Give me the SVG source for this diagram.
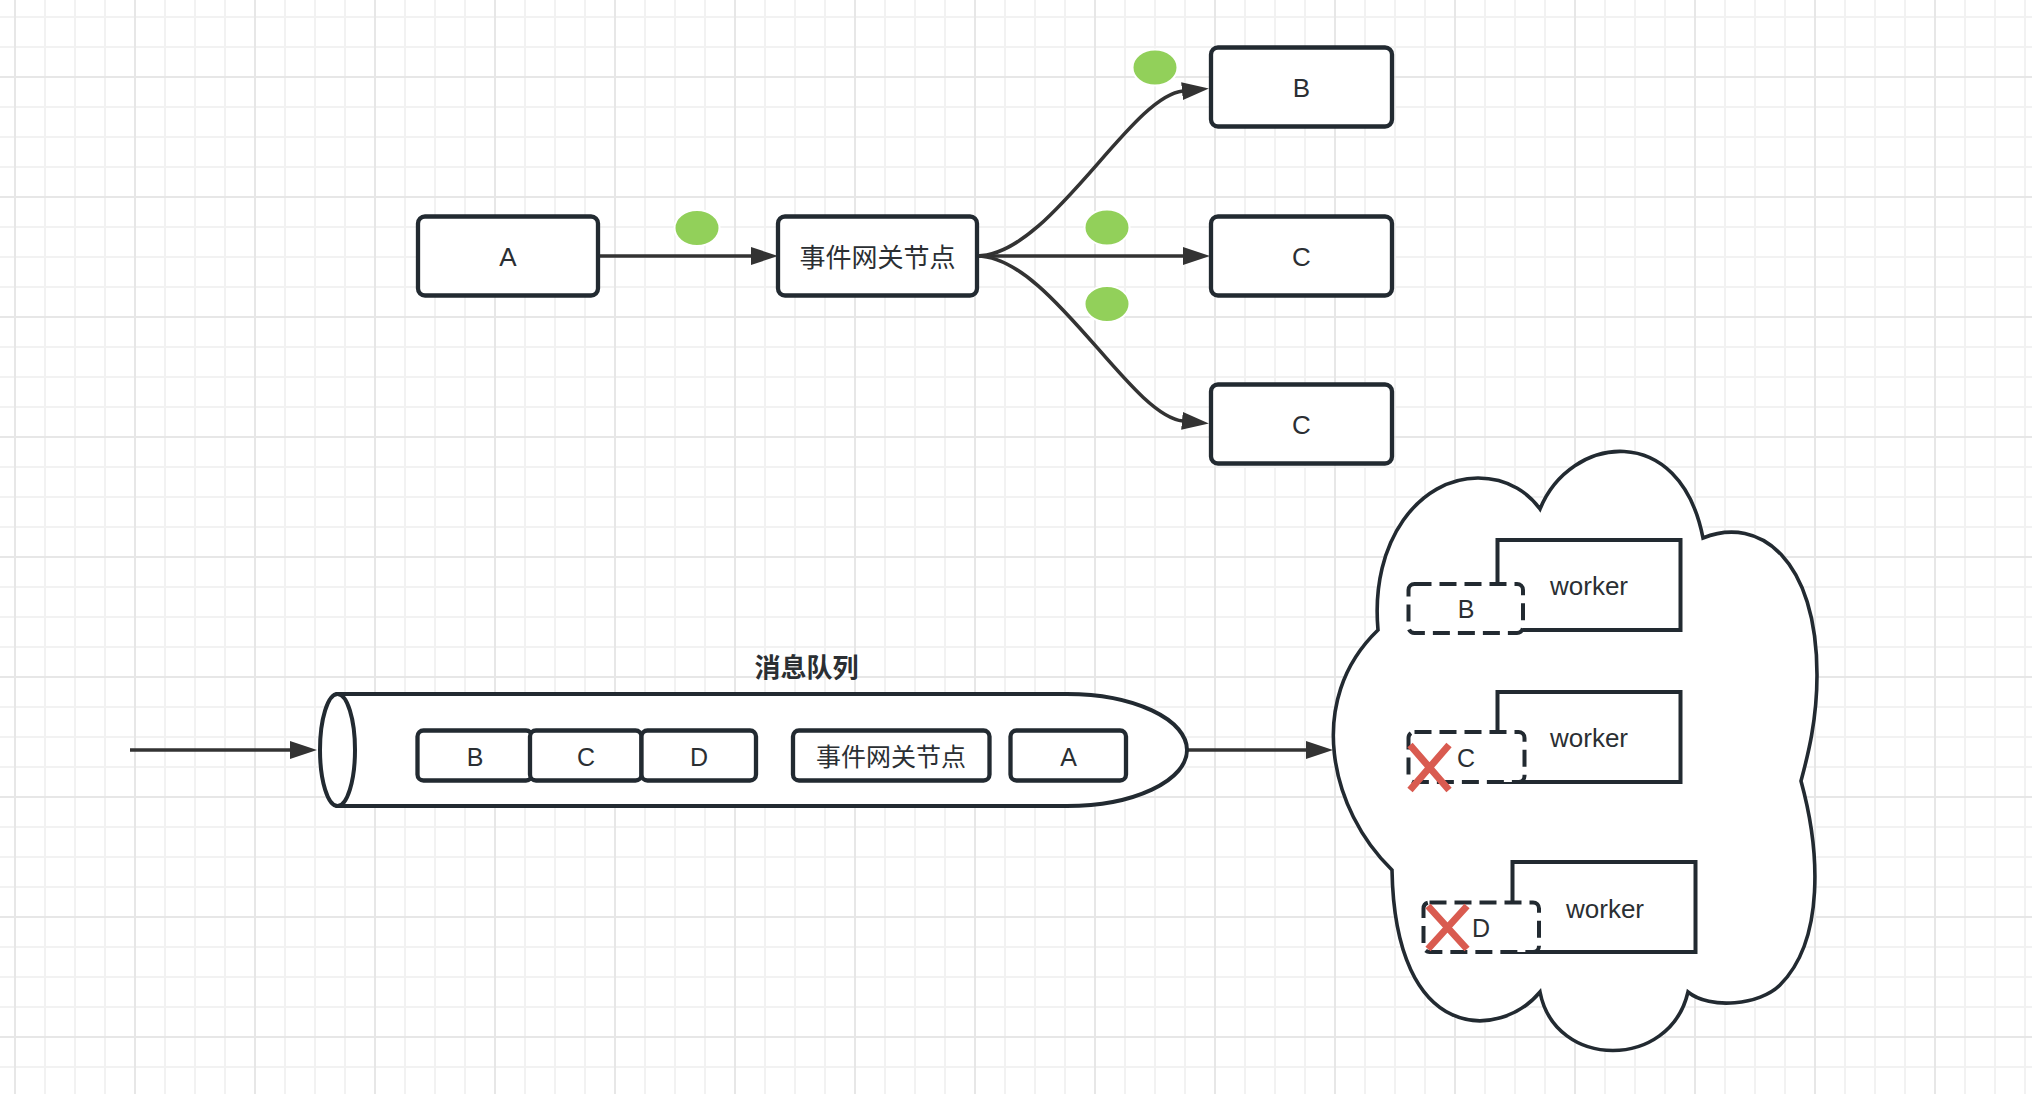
<svg xmlns="http://www.w3.org/2000/svg" width="2032" height="1094" viewBox="0 0 2032 1094">
<defs>
<style>
.gmin{stroke:#f2f2f2;stroke-width:2;fill:none}
.gmaj{stroke:#e7e7e7;stroke-width:2;fill:none}
.box{fill:#ffffff;stroke:#222a31;stroke-width:4.3}
.cyl{fill:#ffffff;stroke:#222a31;stroke-width:4}
.cloud{fill:#ffffff;stroke:#222a31;stroke-width:3.6}
.wk{fill:#ffffff;stroke:#222a31;stroke-width:4}
.dash{fill:#ffffff;stroke:#222a31;stroke-width:4;stroke-dasharray:17 8}
.edge{fill:none;stroke:#333333;stroke-width:3.6}
.tok{fill:#92d05a;stroke:#ffffff;stroke-width:2}
.xm{stroke:#d95b50;stroke-width:7;fill:none}
.t{font-family:"Liberation Sans","Noto Sans CJK SC",sans-serif;font-size:26px;fill:#2b2f33;text-anchor:middle}
.s{font-size:25px}
.b{font-weight:bold}
</style>
<marker id="arr" markerUnits="userSpaceOnUse" viewBox="0 0 27 18" markerWidth="27" markerHeight="18" refX="1" refY="9" orient="auto">
<path d="M0,0 L27,9 L0,18 Z" fill="#333333"/>
</marker>
</defs>
<rect width="2032" height="1094" fill="#ffffff"/>
<g id="grid">
<path class="gmin" d="M45 0V1094M75 0V1094M105 0V1094M165 0V1094M195 0V1094M225 0V1094M285 0V1094M315 0V1094M345 0V1094M405 0V1094M435 0V1094M465 0V1094M525 0V1094M555 0V1094M585 0V1094M645 0V1094M675 0V1094M705 0V1094M765 0V1094M795 0V1094M825 0V1094M885 0V1094M915 0V1094M945 0V1094M1005 0V1094M1035 0V1094M1065 0V1094M1125 0V1094M1155 0V1094M1185 0V1094M1245 0V1094M1275 0V1094M1305 0V1094M1365 0V1094M1395 0V1094M1425 0V1094M1485 0V1094M1515 0V1094M1545 0V1094M1605 0V1094M1635 0V1094M1665 0V1094M1725 0V1094M1755 0V1094M1785 0V1094M1845 0V1094M1875 0V1094M1905 0V1094M1965 0V1094M1995 0V1094M2025 0V1094"/>
<path class="gmin" d="M0 17H2032M0 47H2032M0 107H2032M0 137H2032M0 167H2032M0 227H2032M0 257H2032M0 287H2032M0 347H2032M0 377H2032M0 407H2032M0 467H2032M0 497H2032M0 527H2032M0 587H2032M0 617H2032M0 647H2032M0 707H2032M0 737H2032M0 767H2032M0 827H2032M0 857H2032M0 887H2032M0 947H2032M0 977H2032M0 1007H2032M0 1067H2032"/>
<path class="gmaj" d="M15 0V1094M135 0V1094M255 0V1094M375 0V1094M495 0V1094M615 0V1094M735 0V1094M855 0V1094M975 0V1094M1095 0V1094M1215 0V1094M1335 0V1094M1455 0V1094M1575 0V1094M1695 0V1094M1815 0V1094M1935 0V1094M0 77H2032M0 197H2032M0 317H2032M0 437H2032M0 557H2032M0 677H2032M0 797H2032M0 917H2032M0 1037H2032"/>
</g>
<g id="connectors">
<path class="edge" d="M598,256 L752,256" marker-end="url(#arr)"/>
<path class="edge" d="M977,256 C1050,256 1130,96 1183,91" marker-end="url(#arr)"/>
<path class="edge" d="M977,256 L1184,256" marker-end="url(#arr)"/>
<path class="edge" d="M977,256 C1050,256 1130,416 1183,421" marker-end="url(#arr)"/>
<path class="edge" d="M130,750 L291,750" marker-end="url(#arr)"/>
<path class="edge" d="M1188,750 L1307,750" marker-end="url(#arr)"/>
</g>
<g id="node-A"><rect class="box" x="418" y="216.5" width="180" height="79" rx="7"/><text class="t" x="508" y="266">A</text></g>
<g id="node-gateway"><rect class="box" x="778" y="216.5" width="199" height="79" rx="7"/><text class="t" x="877.5" y="266.5">事件网关节点</text></g>
<g id="node-B"><rect class="box" x="1211" y="47.5" width="181" height="79" rx="7"/><text class="t" x="1301.5" y="97">B</text></g>
<g id="node-C1"><rect class="box" x="1211" y="216.5" width="181" height="79" rx="7"/><text class="t" x="1301.5" y="265.5">C</text></g>
<g id="node-C2"><rect class="box" x="1211" y="384.5" width="181" height="79" rx="7"/><text class="t" x="1301.5" y="434">C</text></g>
<g id="token-1"><ellipse class="tok" cx="697" cy="228" rx="22.5" ry="18"/></g>
<g id="token-2"><ellipse class="tok" cx="1155" cy="67.5" rx="22.5" ry="18"/></g>
<g id="token-3"><ellipse class="tok" cx="1107" cy="227.5" rx="22.5" ry="18"/></g>
<g id="token-4"><ellipse class="tok" cx="1107" cy="304" rx="22.5" ry="18"/></g>
<g id="node-queue">
<path class="cyl" d="M337.5,694 L1067,694 A120,56 0 0 1 1067,806 L337.5,806 Z"/>
<ellipse class="cyl" cx="337.5" cy="750" rx="17.5" ry="56"/>
<text class="t b" x="806.5" y="676.5">消息队列</text>
</g>
<g id="q-B"><rect class="box" x="417.5" y="730.5" width="114.5" height="50" rx="6"/><text class="t s" x="475" y="765.5">B</text></g>
<g id="q-C"><rect class="box" x="530" y="730.5" width="111.5" height="50" rx="6"/><text class="t s" x="586" y="765.5">C</text></g>
<g id="q-D"><rect class="box" x="641.5" y="730.5" width="114.5" height="50" rx="6"/><text class="t s" x="699" y="765.5">D</text></g>
<g id="q-gateway"><rect class="box" x="793" y="730.5" width="196.5" height="50" rx="6"/><text class="t s" x="891" y="766">事件网关节点</text></g>
<g id="q-A"><rect class="box" x="1010.5" y="730.5" width="115.5" height="50" rx="6"/><text class="t s" x="1068.5" y="765.5">A</text></g>
<g id="node-cloud">
<path class="cloud" d="M1378,630 C1370,540 1420,478 1478,478 C1510,478 1530,495 1540,509 C1570,435 1680,420 1703,538 C1760,515 1817,560 1817,675 C1817,720 1808,755 1801,781 C1820,850 1825,940 1780,985 C1760,1005 1710,1010 1688,992 C1670,1070 1555,1070 1540,992 C1500,1040 1395,1045 1392,870 C1330,810 1305,700 1378,630 Z"/>
</g>
<g id="worker-1"><rect class="wk" x="1497.5" y="540" width="183" height="90"/><text class="t" x="1589" y="595">worker</text></g>
<g id="task-B"><rect class="dash" x="1408.5" y="584" width="114.5" height="49" rx="6"/><text class="t s" x="1466" y="618">B</text></g>
<g id="worker-2"><rect class="wk" x="1497.5" y="692" width="183" height="90"/><text class="t" x="1589" y="747">worker</text></g>
<g id="task-C"><rect class="dash" x="1408.5" y="732" width="116" height="50" rx="6"/><text class="t s" x="1466" y="766.5">C</text></g>
<g id="mark-C"><path class="xm" d="M1410,745 L1449,790 M1449,745 L1410,790"/></g>
<g id="worker-3"><rect class="wk" x="1512.5" y="862" width="183" height="90"/><text class="t" x="1605" y="918">worker</text></g>
<g id="task-D"><rect class="dash" x="1423.5" y="902.5" width="115.5" height="49.5" rx="6"/><text class="t s" x="1481" y="937">D</text></g>
<g id="mark-D"><path class="xm" d="M1428,906 L1467,949 M1467,906 L1428,949"/></g>
</svg>
